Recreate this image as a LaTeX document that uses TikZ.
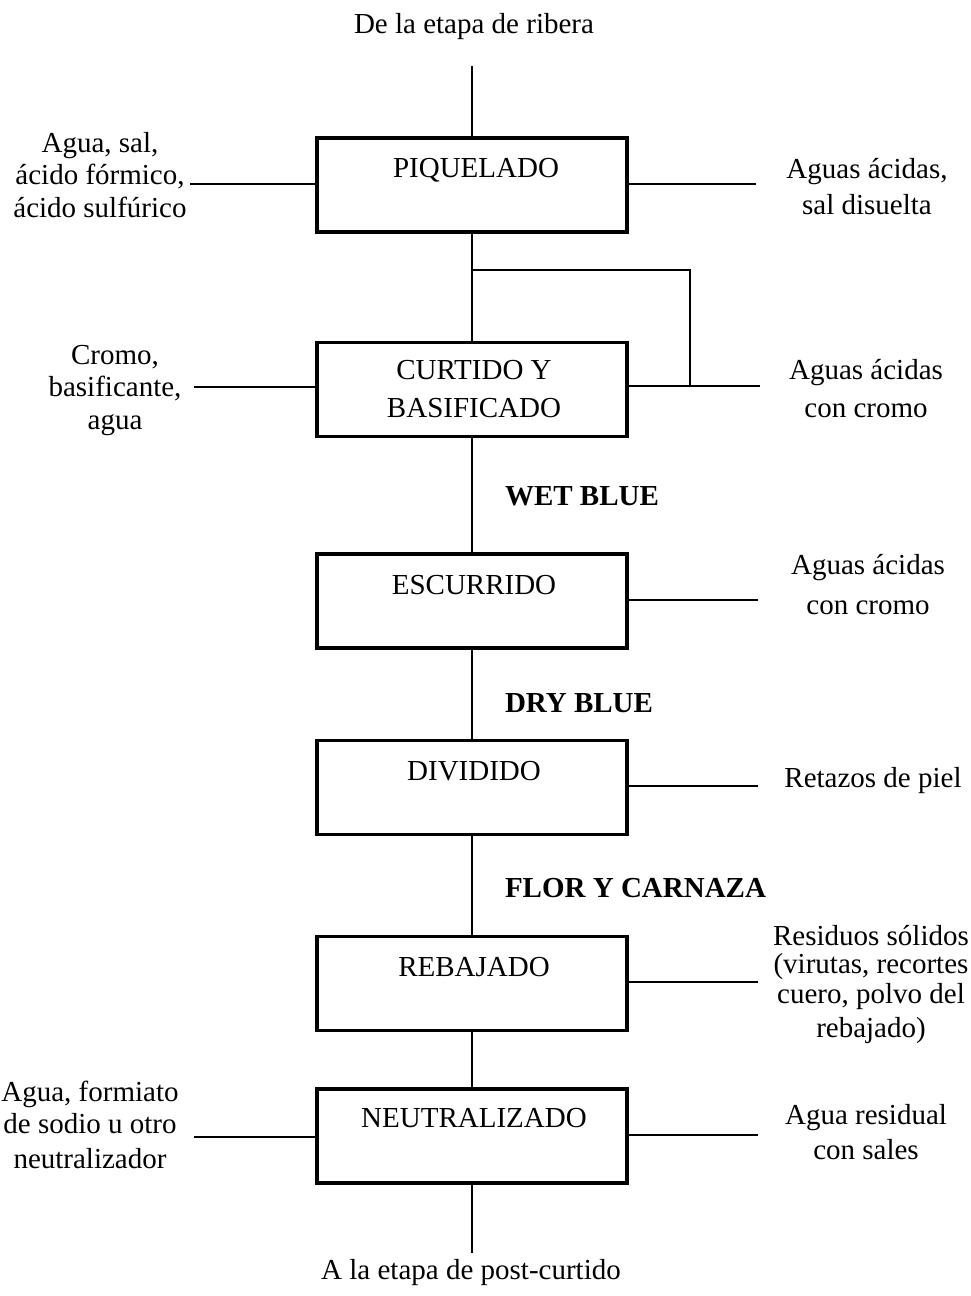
\documentclass[tikz,border=0pt]{standalone}
\usepackage{fontspec}
\setmainfont{Liberation Serif}
\begin{document}
\begin{tikzpicture}[x=1pt,y=-1pt,
  every node/.style={font=\fontsize{29}{32.5}\selectfont, inner sep=0pt, outer sep=0pt},
  stagebox/.style={draw, line width=3.3pt, minimum width=310pt, minimum height=94pt},
  stagename/.style={anchor=base, align=center},
  sidetext/.style={anchor=base, align=center},
  product/.style={anchor=base west, font=\fontsize{29}{32.5}\selectfont\bfseries},
  flow/.style={line width=1.6pt}]
\useasboundingbox (0,0) rectangle (970,1296);

% process stages
\node[stagebox] (piq) at (472,185) {};
\node[stagebox] (cur) at (472,389.5) {};
\node[stagebox] (esc) at (472,601) {};
\node[stagebox] (div) at (472,787.5) {};
\node[stagebox] (reb) at (472,983.5) {};
\node[stagebox] (neu) at (472,1136) {};

% stage names (multi-line text is placed by the baseline of its last line)
\node[stagename] (piqt) at (476,177) {PIQUELADO};
\node[stagename] (curt) at (474,417) {CURTIDO Y\\[5.5pt]BASIFICADO};
\node[stagename] (esct) at (474,594) {ESCURRIDO};
\node[stagename] (divt) at (474,780) {DIVIDIDO};
\node[stagename] (rebt) at (474,976) {REBAJADO};
\node[stagename] (neut) at (474,1127) {NEUTRALIZADO};

% entry and exit of the stage sequence
\node[anchor=base] (from) at (474,33) {De la etapa de ribera};
\node[anchor=base] (to) at (471,1279) {A la etapa de post-curtido};
\coordinate (topin) at (472,66);
\coordinate (botout) at (472,1253);

% intermediate products
\node[product] (wet) at (505,505) {WET BLUE};
\node[product] (dry) at (505,712) {DRY BLUE};
\node[product] (flor) at (505,897) {FLOR Y CARNAZA};

% inputs
\node[sidetext] (inpiq) at (100,217) {Agua, sal,\\ácido fórmico,\\ácido sulfúrico};
\node[sidetext] (incur) at (115,429) {Cromo,\\basificante,\\agua};
\node[sidetext] (inneu) at (90,1168) {Agua, formiato\\[-0.5pt]de sodio u otro\\[2.5pt]neutralizador};

% outputs
\node[sidetext] (outpiq) at (867,214) {Aguas ácidas,\\[3.5pt]sal disuelta};
\node[sidetext] (outcur) at (866,417) {Aguas ácidas\\[5.5pt]con cromo};
\node[sidetext] (outesc) at (868,614) {Aguas ácidas\\[7.5pt]con cromo};
\node[sidetext] (outdiv) at (873,787) {Retazos de piel};
\node[sidetext] (outreb) at (871,1037) {Residuos sólidos\\[-4.5pt](virutas, recortes\\[-2.5pt]cuero, polvo del\\[1.5pt]rebajado)};
\node[sidetext] (outneu) at (866,1159) {Agua residual\\[2.5pt]con sales};

% line ends
\coordinate (lpiq) at (190,184);
\coordinate (lcur) at (194,387);
\coordinate (lneu) at (194,1137);
\coordinate (rpiq) at (756,184);
\coordinate (rcur) at (760,386);
\coordinate (resc) at (758,600);
\coordinate (rdiv) at (758,786);
\coordinate (rreb) at (758,982);
\coordinate (rneu) at (758,1135);
\coordinate (split) at (472,270);
\coordinate (bend) at (690,270);
\coordinate (join) at (690,386);

% main flow
\draw[flow] (topin) -- (piq.north);
\draw[flow] (piq.south) -- (cur.north);
\draw[flow] (cur.south) -- (esc.north);
\draw[flow] (esc.south) -- (div.north);
\draw[flow] (div.south) -- (reb.north);
\draw[flow] (reb.south) -- (neu.north);
\draw[flow] (neu.south) -- (botout);

% inputs and outputs
\draw[flow] (lpiq) -- (lpiq -| piq.west);
\draw[flow] (lcur) -- (lcur -| cur.west);
\draw[flow] (lneu) -- (lneu -| neu.west);
\draw[flow] (rpiq -| piq.east) -- (rpiq);
\draw[flow] (rcur -| cur.east) -- (rcur);
\draw[flow] (resc -| esc.east) -- (resc);
\draw[flow] (rdiv -| div.east) -- (rdiv);
\draw[flow] (rreb -| reb.east) -- (rreb);
\draw[flow] (rneu -| neu.east) -- (rneu);

% branch joining the chrome-bearing acid water
\draw[flow] (split) -- (bend) -- (join);
\end{tikzpicture}
\end{document}
